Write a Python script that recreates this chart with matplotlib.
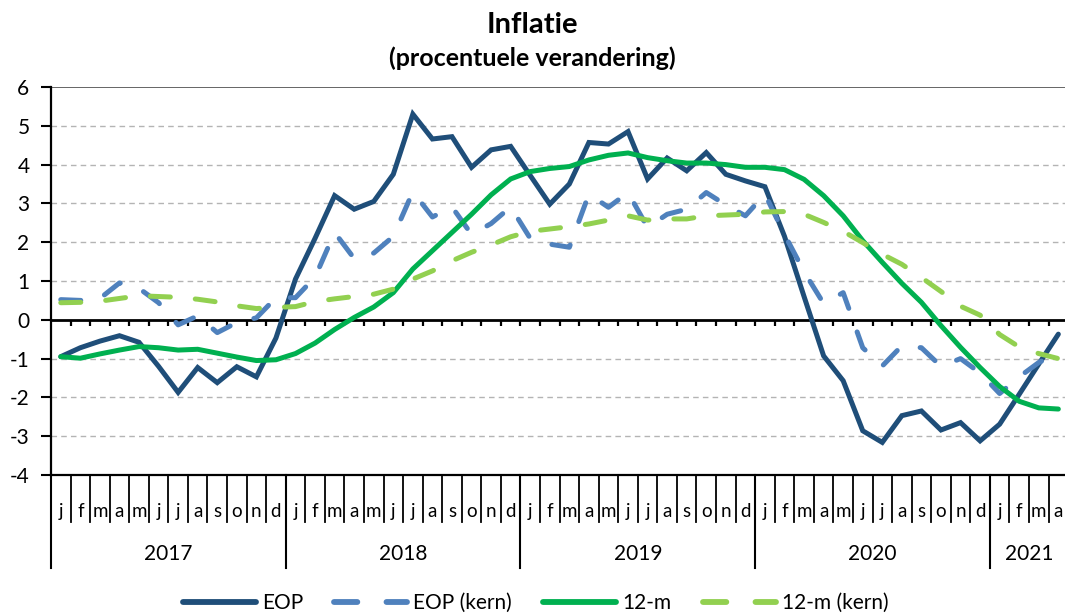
import matplotlib
matplotlib.use('Agg')
import matplotlib.pyplot as plt
from matplotlib.lines import Line2D

plt.rcParams['font.family'] = ['Lato', 'DejaVu Sans']
plt.rcParams['axes.unicode_minus'] = False

# ---- data ----
month_letters = ['j', 'f', 'm', 'a', 'm', 'j', 'j', 'a', 's', 'o', 'n', 'd']
years = ['2017', '2018', '2019', '2020', '2021']
months_per_year = [12, 12, 12, 12, 4]
labels = ['EOP', 'EOP (kern)', '12-m', '12-m (kern)']

eop = [-0.95, -0.72, -0.55, -0.41, -0.58, -1.20, -1.87, -1.23, -1.62, -1.21, -1.47, -0.47,
       1.05, 2.10, 3.20, 2.85, 3.05, 3.75, 5.30, 4.66, 4.72, 3.93, 4.38, 4.47,
       3.72, 2.98, 3.50, 4.57, 4.53, 4.85, 3.63, 4.17, 3.84, 4.31, 3.75, 3.58,
       3.43, 2.15, 0.60, -0.93, -1.57, -2.86, -3.16, -2.47, -2.35, -2.84, -2.65, -3.12,
       -2.69, -1.92, -1.14, -0.37]
eop_kern = [0.52, 0.50, 0.55, 0.95, 0.81, 0.44, -0.13, 0.10, -0.33, -0.07, 0.05, 0.57,
            0.57, 1.10, 2.25, 1.58, 1.72, 2.15, 3.30, 2.65, 2.91, 2.20, 2.48, 2.91,
            2.10, 1.95, 1.87, 3.24, 2.90, 3.28, 2.38, 2.72, 2.85, 3.28, 2.96, 2.68,
            3.24, 2.20, 1.24, 0.42, 0.70, -0.72, -1.19, -0.67, -0.72, -1.20, -1.00, -1.37,
            -1.90, -1.47, -1.10, -0.85]
m12 = [-0.95, -0.99, -0.88, -0.78, -0.69, -0.72, -0.78, -0.76, -0.86, -0.96, -1.05, -1.03,
       -0.87, -0.60, -0.25, 0.06, 0.33, 0.70, 1.31, 1.78, 2.25, 2.72, 3.22, 3.63,
       3.82, 3.90, 3.95, 4.12, 4.24, 4.30, 4.18, 4.10, 4.04, 4.04, 4.00, 3.93,
       3.93, 3.87, 3.62, 3.20, 2.68, 2.04, 1.48, 0.94, 0.45, -0.15, -0.71, -1.23,
       -1.72, -2.10, -2.27, -2.30]
m12_kern = [0.44, 0.45, 0.48, 0.55, 0.62, 0.60, 0.58, 0.53, 0.46, 0.36, 0.29, 0.32,
            0.34, 0.47, 0.54, 0.60, 0.66, 0.79, 1.05, 1.26, 1.52, 1.74, 1.93, 2.14,
            2.28, 2.34, 2.40, 2.47, 2.57, 2.68, 2.57, 2.60, 2.60, 2.68, 2.70, 2.72,
            2.78, 2.79, 2.72, 2.51, 2.28, 1.99, 1.69, 1.43, 1.09, 0.73, 0.35, 0.12,
            -0.38, -0.70, -0.87, -1.00]
yticks = list(range(-4, 7))

# ---- styles ----
colors = ['#1F4E79', '#4F81BD', '#00B050', '#92D050']
dash = (0, (4, 5))
styles = ['-', dash, '-', dash]
lw = 3.6

W, H = 1065, 615
fig = plt.figure(figsize=(W / 100, H / 100), dpi=100)
L, R, T, B = 51, 1065, 87, 475
ax = fig.add_axes([L / W, 1 - B / H, (R - L) / W, (B - T) / H])

n = len(eop)
x = list(range(n))
cat_w = 19.56
ax.set_xlim(-0.5, -0.5 + (R - L) / cat_w)
ax.set_ylim(-4, 6)

# gridlines
for v in yticks:
    if v in (-4, 0, 6):
        continue
    ax.axhline(v, color='#B4B4B4', lw=1.0, ls=(0, (4, 3)), zorder=1)
ax.axhline(6, color='#595959', lw=1.3, zorder=1)
ax.axhline(-4, color='black', lw=1.6, zorder=3, clip_on=False)
ax.axhline(0, color='black', lw=2.0, zorder=3)

# tick marks on zero line at category boundaries
bounds = [k + 0.5 for k in range(-1, n)]
ax.vlines(bounds[1:], -0.17, 0, color='black', lw=1.6, zorder=3)

# series
for data, c, s, lab in zip([eop, eop_kern, m12, m12_kern], colors, styles, labels):
    ax.plot(x, data, color=c, ls=s, lw=lw, label=lab, zorder=4,
            solid_capstyle='round', dash_capstyle='round', solid_joinstyle='miter')

# axes styling
for sp in ['top', 'right', 'bottom']:
    ax.spines[sp].set_visible(False)
ax.spines['left'].set_linewidth(1.6)
ax.spines['left'].set_bounds(-4, 6)
ax.set_xticks([])
ax.set_yticks(yticks)
ax.tick_params(axis='y', direction='out', length=7.5, width=1.5, labelsize=15, pad=8,
               colors='black')

# category table below axis
tr = ax.get_xaxis_transform()
def fy(px):
    return (B - px) / (B - T)

month_bottom = fy(521.5)
year_bottom = fy(568)
year_starts = [-0.5]
for m in months_per_year:
    year_starts.append(year_starts[-1] + m)
for b in bounds:
    is_year = b in year_starts
    ax.plot([b, b], [0, year_bottom if is_year else month_bottom], transform=tr,
            color='black', lw=1.5 if is_year else 1.3, clip_on=False, zorder=3)

k = 0
for yi, (yr, m) in enumerate(zip(years, months_per_year)):
    for j in range(m):
        ax.text(k, fy(517), month_letters[j], transform=tr, ha='center', va='baseline',
                fontsize=13.5, color='black')
        k += 1
    center = year_starts[yi] + m / 2
    ax.text(center, fy(560), yr, transform=tr, ha='center', va='baseline',
            fontsize=15, color='black')

# titles
fig.text(0.5, 1 - 33 / H, 'Inflatie', ha='center', va='baseline', fontsize=21,
         fontweight='bold')
fig.text(0.5, 1 - 66 / H, '(procentuele verandering)', ha='center', va='baseline',
         fontsize=18, fontweight='bold')

# legend
handles = [Line2D([0], [0], color=c, ls=s, lw=lw + 0.6, solid_capstyle='round',
                  dash_capstyle='round') for c, s in zip(colors, styles)]
fig.legend(handles, labels, loc='center', bbox_to_anchor=(0.503, 1 - 603 / H), ncol=4,
           frameon=False, handlelength=3.5, handletextpad=0.3, columnspacing=1.5,
           fontsize=15, borderaxespad=0, borderpad=0)

fig.savefig('out.png', dpi=100)
